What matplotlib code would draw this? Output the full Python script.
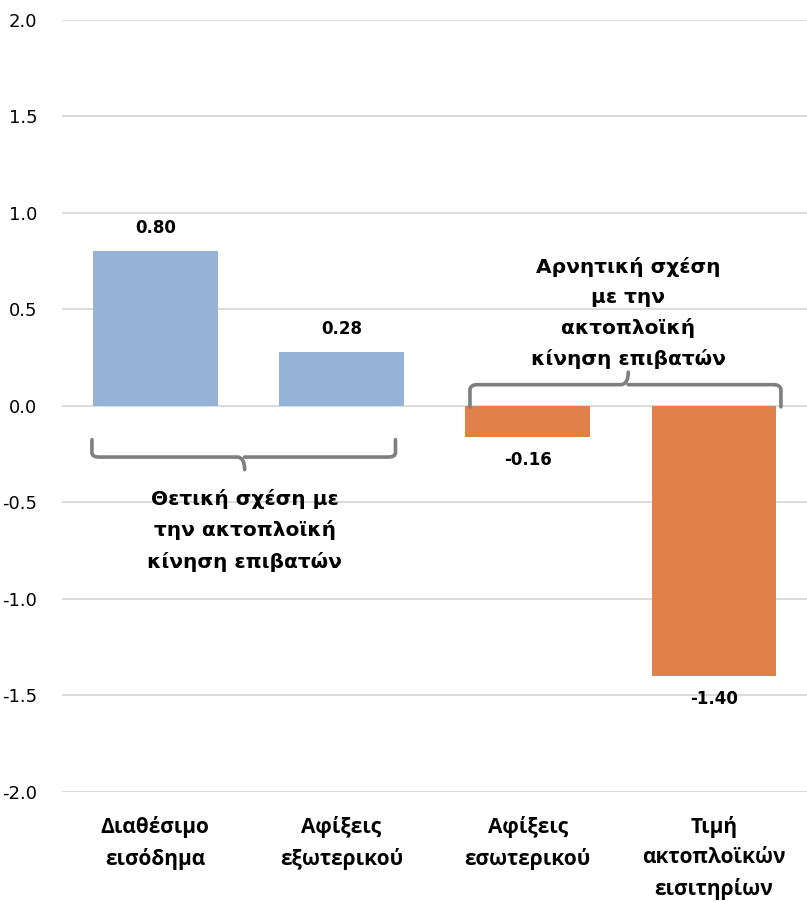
import matplotlib
matplotlib.use("Agg")
import matplotlib.pyplot as plt
from matplotlib.path import Path
from matplotlib.patches import PathPatch

plt.rcParams['font.family'] = ['DejaVu Sans']

categories = ['Διαθέσιμο\nεισόδημα', 'Αφίξεις\nεξωτερικού',
              'Αφίξεις\nεσωτερικού', 'Τιμή\nακτοπλοϊκών\nεισιτηρίων']
values = [0.80, 0.28, -0.16, -1.40]
colors = ['#95B3D7', '#95B3D7', '#E0804A', '#E0804A']
yticks = [-2.0, -1.5, -1.0, -0.5, 0.0, 0.5, 1.0, 1.5, 2.0]

fig = plt.figure(figsize=(8.07, 9.02), dpi=100)
ax = fig.add_axes([0.077, 0.122, 0.923, 0.856])

x = range(len(values))
ax.bar(x, values, width=0.67, color=colors, zorder=3)

#value labels
for i, v in enumerate(values):
    off = 0.12 if v > 0 else -0.12
    ax.text(i, v + off, '%.2f' % v, ha='center', va='center',
            fontsize=12, fontweight='bold', color='black')

ax.set_xlim(-0.5, 3.5)
ax.set_ylim(-2.0, 2.0)
ax.set_yticks(yticks)
ax.set_yticklabels(['%.1f' % t for t in yticks], fontsize=13)
ax.set_xticks(list(x))
ax.set_xticklabels(categories, fontsize=15, fontweight='bold', va='top',
                   linespacing=1.6, family=['Open Sans', 'DejaVu Sans'])
ax.tick_params(axis='both', length=0)
ax.tick_params(axis='x', pad=17)
ax.tick_params(axis='y', pad=18)
ax.yaxis.grid(True, color='#D9D9D9', lw=1.3, zorder=0)
for s in ax.spines.values():
    s.set_visible(False)


def brace(ax, x0, x1, xm, ytip, yline, ypeak):
    # curly bracket made of straight runs and small curves
    r = 0.04
    dy = yline - ytip
    verts = [(x0, ytip), (x0, yline - dy * 0.25), (x0, yline), (x0 + r, yline),
             (xm - r, yline), (xm, yline), (xm, ypeak),
             (xm, yline), (xm + r, yline),
             (x1 - r, yline), (x1, yline), (x1, yline - dy * 0.25), (x1, ytip)]
    codes = [Path.MOVETO, Path.LINETO, Path.CURVE3, Path.CURVE3,
             Path.LINETO, Path.CURVE3, Path.CURVE3,
             Path.MOVETO, Path.CURVE3,
             Path.LINETO, Path.CURVE3, Path.CURVE3, Path.LINETO]
    ax.add_patch(PathPatch(Path(verts, codes), fill=False, ec='#7F7F7F', lw=2.6,
                           capstyle='round', joinstyle='round', zorder=4))


brace(ax, -0.34, 1.29, 0.48, -0.175, -0.265, -0.33)
brace(ax, 1.69, 3.36, 2.54, -0.005, 0.11, 0.175)

ax.text(0.48, -0.645, 'Θετική σχέση με\nτην ακτοπλοϊκή\nκίνηση επιβατών', ha='center',
        va='center', fontsize=14.5, fontweight='bold', linespacing=1.7)
ax.text(2.54, 0.48, 'Αρνητική σχέση\nμε την\nακτοπλοϊκή\nκίνηση επιβατών', ha='center',
        va='center', fontsize=14.5, fontweight='bold', linespacing=1.7)

fig.savefig('out.png', dpi=100)
